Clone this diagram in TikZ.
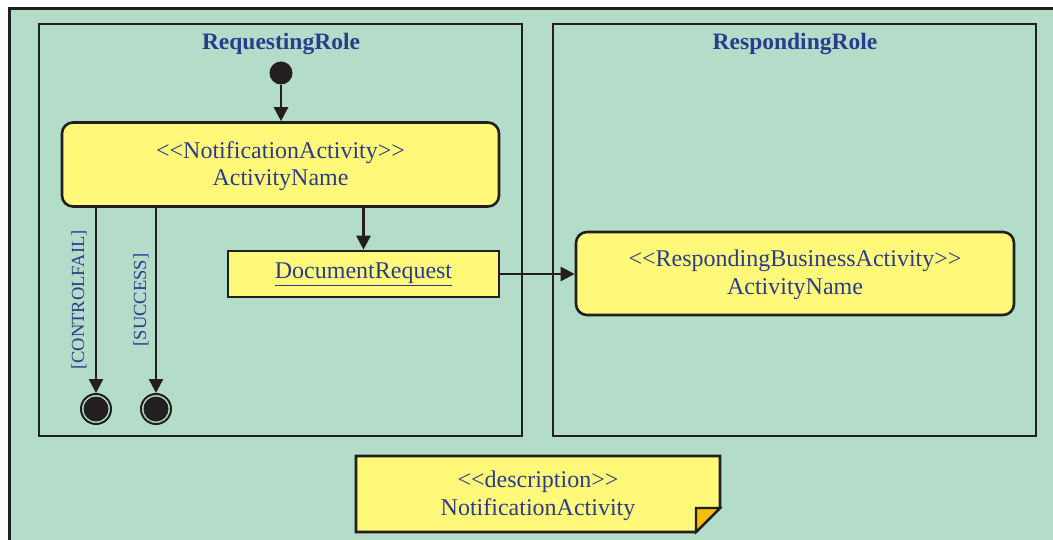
\documentclass[tikz,border=0pt]{standalone}
\usepackage{fontspec}
\setmainfont{Liberation Serif}
\usetikzlibrary{arrows.meta}
\definecolor{lanegreen}{HTML}{B4DDC9}
\definecolor{actyellow}{HTML}{FFF878}
\definecolor{foldorange}{HTML}{F5BE0A}
\definecolor{inkblue}{HTML}{2C3C8C}
\definecolor{linedark}{HTML}{231F20}
% UML stereotype brackets, kept apart so they are not joined into guillemets
\newcommand{\stereo}[1]{<\kern0pt<#1>\kern0pt>}
\tikzset{
  lane/.style={draw=linedark, line width=2.6pt, minimum width=483pt, minimum height=412pt, inner sep=0pt},
  lanetitle/.style={font=\fontsize{23.5}{26}\selectfont\bfseries, text=inkblue},
  activity/.style={draw=linedark, line width=2.6pt, fill=actyellow, rounded corners=11pt, inner sep=0pt},
  bodytext/.style={text=inkblue, align=center, font=\fontsize{24}{27.5}\selectfont, inner sep=0pt},
  objbox/.style={draw=linedark, line width=2.6pt, fill=actyellow, text=inkblue,
    font=\fontsize{24}{26}\selectfont, inner sep=0pt},
  guard/.style={rotate=90, text=inkblue, font=\fontsize{18.5}{20}\selectfont, inner sep=0pt},
  flow/.style={draw=linedark, line width=2.6pt, -{Triangle[length=14pt,width=14pt]}},
  initstate/.style={circle, fill=linedark, minimum size=23pt, inner sep=0pt},
  finalstate/.style={circle, draw=linedark, line width=2pt, fill=lanegreen, minimum size=30pt, inner sep=0pt},
}
\begin{document}
\begin{tikzpicture}[x=1pt, y=-1pt]
  \useasboundingbox (0,0) rectangle (1053,540);
  \clip (0,0) rectangle (1053,540);
  \fill[white] (0,0) rectangle (1053,540);
  % outer frame running off the right and bottom edges
  \draw[line width=3pt, draw=linedark, fill=lanegreen] (9,9) rectangle (1080,570);

  % swimlanes
  \node[lane] (reqlane) at (280.5,230) {};
  \node[lane] (resplane) at (794.5,230) {};
  \node[lanetitle] (reqtitle) at (281,44) {RequestingRole};
  \node[lanetitle] (resptitle) at (795,44) {RespondingRole};

  % requesting side
  \node[initstate] (init) at (281,73) {};
  \node[activity, minimum width=437pt, minimum height=84pt] (act) at (280.5,164.5) {};
  \node[bodytext] (acttext) at ([yshift=-1.5pt]act.center)
    {\stereo{NotificationActivity}\\ActivityName};
  \node[objbox, minimum width=271pt, minimum height=46pt] (docreq) at (363.5,274)
    {\underline{DocumentRequest}};
  \node[finalstate] (endfail) at (96,409) {};
  \node[finalstate] (endok) at (156,409) {};
  \fill[linedark] (endfail) circle (12.5pt);
  \fill[linedark] (endok) circle (12.5pt);
  \node[guard] (gfail) at (79,300) {[CONTROLFAIL]};
  \node[guard] (gok) at (141,300) {[SUCCESS]};

  % responding side
  \node[activity, minimum width=438pt, minimum height=83pt] (resp) at (795,273.5) {};
  \node[bodytext] (resptext) at ([yshift=-1.5pt]resp.center)
    {\stereo{RespondingBusinessActivity}\\ActivityName};

  % control and object flows
  \draw[flow] (init) -- (init |- act.north);
  \draw[flow] (act.south -| docreq.north) -- (docreq.north);
  \draw[flow] (docreq.east) -- (docreq.east -| resp.west);
  \draw[flow] (act.south -| endfail.north) -- (endfail.north);
  \draw[flow] (act.south -| endok.north) -- (endok.north);

  % description note with folded corner
  \coordinate (notecenter) at (538,496);
  \draw[line width=2.6pt, draw=linedark, fill=actyellow, line join=miter]
    (356,456) -- (720,456) -- (720,508) -- (696,532) -- (356,532) -- cycle;
  \draw[line width=2.2pt, draw=linedark, fill=foldorange, line join=miter]
    (696,532) -- (696,508) -- (720,508) -- cycle;
  \node[bodytext] (note) at (notecenter) {\stereo{description}\\NotificationActivity};
\end{tikzpicture}
\end{document}
